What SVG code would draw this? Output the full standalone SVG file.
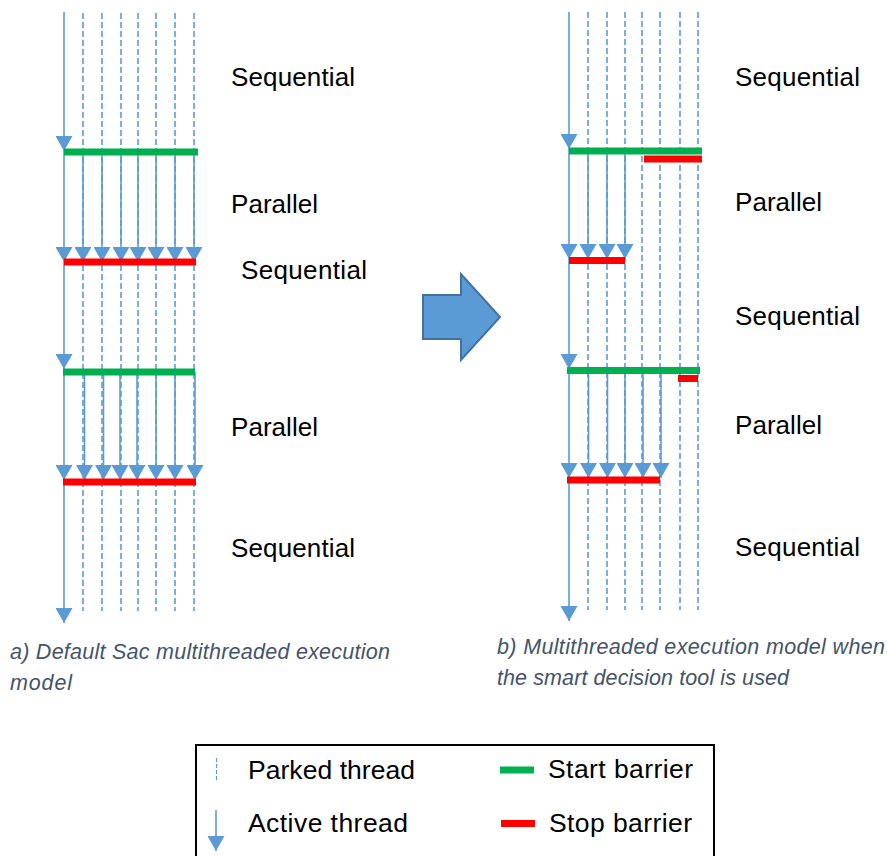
<svg xmlns="http://www.w3.org/2000/svg" width="887" height="856" viewBox="0 0 887 856">
<defs>
<marker id="ah" markerUnits="userSpaceOnUse" viewBox="0 0 15 17" markerWidth="15" markerHeight="17" refX="15" refY="8.5" orient="auto">
<path d="M0,0 L15,8.5 L0,17 z" fill="#5B9BD5"/>
</marker>
<style>
.act{stroke:#5B9BD5;stroke-width:1.6;fill:none}
.park{stroke:#5B9BD5;stroke-width:1.6;stroke-dasharray:6 3;fill:none}
.arr{marker-end:url(#ah)}
.g{stroke:#00B050;stroke-width:7}
.r{stroke:#FF0000;stroke-width:7}
.lbl{font-family:"Liberation Sans",Arial,sans-serif;font-size:26px;fill:#000}
.leg{font-family:"Liberation Sans",Arial,sans-serif;font-size:26.5px;fill:#000}
.cap{font-family:"Liberation Sans",Arial,sans-serif;font-size:21.5px;font-style:italic;fill:#44546A}
</style>
</defs>
<rect width="887" height="856" fill="#fff"/>

<g id="connectors">
<g id="left-parked">
<line class="park" x1="83" y1="13" x2="83" y2="611"/>
<line class="park" x1="102" y1="13" x2="102" y2="611"/>
<line class="park" x1="121" y1="13" x2="121" y2="611"/>
<line class="park" x1="138" y1="13" x2="138" y2="611"/>
<line class="park" x1="156" y1="13" x2="156" y2="611"/>
<line class="park" x1="175" y1="13" x2="175" y2="611"/>
<line class="park" x1="194" y1="13" x2="194" y2="611"/>
</g>
<g id="left-active">
<line class="act arr" x1="64" y1="12" x2="64" y2="151"/>
<line class="act arr" x1="64" y1="151" x2="64" y2="262"/>
<line class="act arr" x1="64" y1="262" x2="64" y2="369"/>
<line class="act arr" x1="64" y1="369" x2="64" y2="480"/>
<line class="act arr" x1="64" y1="480" x2="64" y2="623"/>
<line class="act arr" x1="83" y1="152" x2="83" y2="262"/>
<line class="act arr" x1="102" y1="152" x2="102" y2="262"/>
<line class="act arr" x1="121" y1="152" x2="121" y2="262"/>
<line class="act arr" x1="138" y1="152" x2="138" y2="262"/>
<line class="act arr" x1="156" y1="152" x2="156" y2="262"/>
<line class="act arr" x1="175" y1="152" x2="175" y2="262"/>
<line class="act arr" x1="194" y1="152" x2="194" y2="262"/>
<line class="act arr" x1="84.5" y1="372" x2="84.5" y2="480"/>
<line class="act arr" x1="103.5" y1="372" x2="103.5" y2="480"/>
<line class="act arr" x1="120" y1="372" x2="120" y2="480"/>
<line class="act arr" x1="137" y1="372" x2="137" y2="480"/>
<line class="act arr" x1="156" y1="372" x2="156" y2="480"/>
<line class="act arr" x1="175" y1="372" x2="175" y2="480"/>
<line class="act arr" x1="195" y1="372" x2="195" y2="480"/>
</g>
<g id="right-parked">
<line class="park" x1="588" y1="12" x2="588" y2="610"/>
<line class="park" x1="607" y1="12" x2="607" y2="610"/>
<line class="park" x1="625" y1="12" x2="625" y2="610"/>
<line class="park" x1="642" y1="12" x2="642" y2="610"/>
<line class="park" x1="660" y1="12" x2="660" y2="610"/>
<line class="park" x1="680" y1="12" x2="680" y2="610"/>
<line class="park" x1="698" y1="12" x2="698" y2="610"/>
</g>
<g id="right-active">
<line class="act arr" x1="569" y1="12" x2="569" y2="149"/>
<line class="act arr" x1="569" y1="149" x2="569" y2="259"/>
<line class="act arr" x1="569" y1="259" x2="569" y2="369"/>
<line class="act arr" x1="569" y1="369" x2="569" y2="478"/>
<line class="act arr" x1="569" y1="478" x2="569" y2="621"/>
<line class="act arr" x1="588" y1="151" x2="588" y2="259"/>
<line class="act arr" x1="607" y1="151" x2="607" y2="259"/>
<line class="act arr" x1="625" y1="151" x2="625" y2="259"/>
<line class="act arr" x1="588.5" y1="370" x2="588.5" y2="478"/>
<line class="act arr" x1="607.5" y1="370" x2="607.5" y2="478"/>
<line class="act arr" x1="625" y1="370" x2="625" y2="478"/>
<line class="act arr" x1="643" y1="370" x2="643" y2="478"/>
<line class="act arr" x1="661" y1="370" x2="661" y2="478"/>
</g>
</g>

<g id="barriers-left">
<line class="g" x1="64" y1="152" x2="198" y2="152"/>
<line class="r" x1="64" y1="262" x2="196" y2="262"/>
<line class="g" x1="63" y1="372" x2="195" y2="372"/>
<line class="r" x1="63" y1="482" x2="196" y2="482"/>
</g>
<g id="barriers-right">
<line class="g" x1="569" y1="151" x2="702" y2="151"/>
<line class="r" x1="644" y1="159" x2="702" y2="159"/>
<line class="r" x1="569" y1="260.5" x2="625" y2="260.5"/>
<line class="g" x1="567" y1="370.5" x2="700" y2="370.5"/>
<line class="r" x1="678" y1="378.5" x2="698" y2="378.5"/>
<line class="r" x1="567" y1="480" x2="660" y2="480"/>
</g>

<g id="labels-left">
<text class="lbl" x="231" y="86" textLength="124">Sequential</text>
<text class="lbl" x="231" y="213" textLength="87">Parallel</text>
<text class="lbl" x="241" y="279" textLength="126">Sequential</text>
<text class="lbl" x="231" y="436" textLength="87">Parallel</text>
<text class="lbl" x="231" y="557" textLength="124">Sequential</text>
</g>
<g id="labels-right">
<text class="lbl" x="735" y="86" textLength="125">Sequential</text>
<text class="lbl" x="735" y="211" textLength="87">Parallel</text>
<text class="lbl" x="735" y="325" textLength="125">Sequential</text>
<text class="lbl" x="735" y="434" textLength="87">Parallel</text>
<text class="lbl" x="735" y="556" textLength="125">Sequential</text>
</g>

<g id="big-arrow">
<polygon points="423,295 461,295 461,274 500,317 461,360 461,339 423,339" fill="#5B9BD5" stroke="#41719C" stroke-width="2"/>
</g>

<g id="captions">
<text class="cap" x="10" y="659" textLength="380">a) Default Sac multithreaded execution</text>
<text class="cap" x="10" y="690" textLength="62">model</text>
<text class="cap" x="497" y="654" textLength="388">b) Multithreaded execution model when</text>
<text class="cap" x="497" y="685" textLength="292">the smart decision tool is used</text>
</g>

<g id="legend">
<rect x="196" y="745" width="518" height="120" fill="none" stroke="#000" stroke-width="2"/>
<line x1="216.5" y1="758" x2="216.5" y2="782" stroke="#5B9BD5" stroke-width="1.2" stroke-dasharray="4 2"/>
<line class="act arr" x1="216" y1="810" x2="216" y2="851"/>
<text class="leg" x="248" y="779" textLength="167">Parked thread</text>
<text class="leg" x="248" y="832" textLength="160">Active thread</text>
<line class="g" x1="500" y1="770" x2="534" y2="770" stroke-width="6"/>
<text class="leg" x="548" y="778" textLength="145">Start barrier</text>
<line class="r" x1="501" y1="823.5" x2="535" y2="823.5" stroke-width="6"/>
<text class="leg" x="549" y="832" textLength="143">Stop barrier</text>
</g>
</svg>
